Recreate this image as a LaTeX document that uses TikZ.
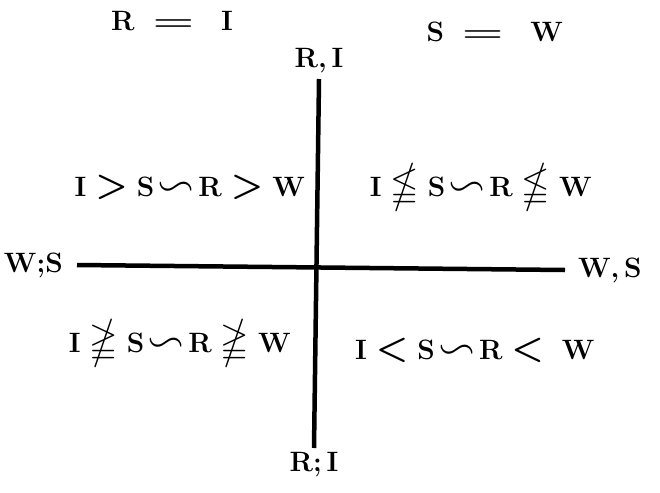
\RequirePackage{fix-cm}
\documentclass[tikz,border=0pt]{standalone}
\usepackage{amsmath,amssymb}
\usepackage{tikz}
\usetikzlibrary{positioning}

\newcommand{\longeq}{\mathrel{\scalebox{1.7}[1]{$=$}}}
\newcommand{\bigrel}[1]{\mathrel{\scalebox{1.3}{$#1$}}}
\newcommand{\simrel}{\mathrel{\scalebox{1.7}[1.4]{$\backsim$}}}

\begin{document}
\begin{tikzpicture}[x=1pt,y=-1pt,line join=round,
    axis/.style={line width=4.5pt},
    lab/.style={font=\fontsize{28}{32}\selectfont\bfseries\boldmath,inner sep=0pt}]
  \useasboundingbox (0,0) rectangle (660,492);
  % ends of the two axes
  \coordinate (top) at (319,79);
  \coordinate (bot) at (314,448);
  \coordinate (lft) at (77,265);
  \coordinate (rgt) at (565,270);
  \draw[axis] (top) -- (bot);
  \draw[axis] (lft) -- (rgt);
  \node[lab,above=6pt of top] (ritop) {R,\,I};
  \node[lab,below=4pt of bot] (ribot) {R;\,I};
  \node[lab,left=14pt of lft] (wsleft) {W;S};
  \node[lab,right=13pt of rgt] (wsright) {W,\,S};
  % the two equalities
  \node[lab] (req) at (172,21) {$\mathrm{R}\;\longeq\;\;\mathrm{I}$};
  \node[lab] (seq) at (495,32) {$\mathrm{S}\;\longeq\;\;\mathrm{W}$};
  % quadrants
  \node[lab] (ul) at (190,187)
    {$\mathrm{I}\bigrel{>}\mathrm{S}\!\simrel\!\mathrm{R}\bigrel{>}\mathrm{W}$};
  \node[lab] (ur) at (481,187)
    {$\mathrm{I}\bigrel{\nleqq}\mathrm{S}\!\simrel\!\mathrm{R}\bigrel{\nleqq}\mathrm{W}$};
  \node[lab] (ll) at (180,343)
    {$\mathrm{I}\bigrel{\ngeqq}\mathrm{S}\!\simrel\!\mathrm{R}\bigrel{\ngeqq}\mathrm{W}$};
  \node[lab] (lr) at (475,350)
    {$\mathrm{I}\bigrel{<}\mathrm{S}\!\simrel\!\mathrm{R}\bigrel{<}\;\mathrm{W}$};
\end{tikzpicture}
\end{document}
